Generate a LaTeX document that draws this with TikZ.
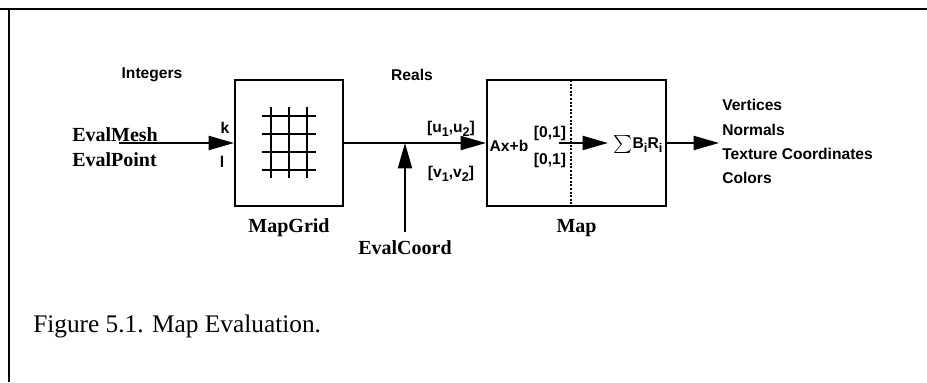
\documentclass[tikz,border=0pt]{standalone}
\usepackage{fontspec}
\setmainfont{Liberation Serif}
\newfontfamily\helv{Liberation Sans}
\usetikzlibrary{arrows.meta}

\tikzset{
  blk/.style={draw, line width=1.5pt, minimum height=94.5pt, inner sep=0pt},
  flow/.style={line width=1.5pt, -{Triangle[length=19pt,width=10.5pt]}},
  sans/.style={font=\helv\bfseries\fontsize{11.7}{14}\selectfont, inner sep=0pt},
  cmd/.style={font=\bfseries\fontsize{15}{18}\selectfont, inner sep=0pt},
}
\newcommand{\sbs}[1]{\raisebox{-0.5ex}{\fontsize{9.5}{10}\selectfont #1}}

\begin{document}
\begin{tikzpicture}[x=0.75pt,y=-0.75pt]
\fill[white] (0,0) rectangle (927,382);
\useasboundingbox (0,0) rectangle (927,382);

% cadre
\draw[line width=1.2pt] (0,9) -- (927,9);
\draw[line width=1.2pt] (9,9) -- (9,382);

% MapGrid
\node[blk, minimum width=81pt] (grid) at (289,143) {};
\foreach \x in {271,289,307}
  \draw[line width=1pt] (\x,107) -- (\x,178);
\foreach \y in {116,134,152,170}
  \draw[line width=1pt] (262,\y) -- (316,\y);
\node[cmd, anchor=base] (gridname) at (289,232) {MapGrid};

% Map
\node[blk, minimum width=134.25pt] (map) at (576.5,143) {};
\coordinate (dtop) at (571,80);
\coordinate (dbot) at (571,206);
\draw[line width=1.5pt, dash pattern=on 1.5pt off 1.2pt] (dtop) -- (dbot);
\node[cmd, anchor=base] (mapname) at (576.5,232) {Map};

% entrees
\node[sans] (ints) at (152,75) {Integers};
\node[cmd, anchor=base west] (mesh) at (72,141) {EvalMesh};
\node[cmd, anchor=base west] (point) at (72,166) {EvalPoint};
\coordinate (in) at (119,143);
\draw[flow] (in) -- (grid.west);
\node[sans] (k) at (225,128) {k};
\node[sans] (l) at (222,162) {l};

% reels
\node[sans] (reals) at (412,75) {Reals};
\coordinate (junc) at (405,143);
\draw[flow] (grid.east) -- (map.west);
\node[cmd, anchor=base] (coord) at (405,254) {EvalCoord};
\draw[flow] ([yshift=6pt]coord.north) -- (junc);
\node[sans, anchor=base] (uu) at (451,132) {[u\sbs{1},u\sbs{2}]};
\node[sans, anchor=base] (vv) at (451,177) {[v\sbs{1},v\sbs{2}]};

% interieur de Map
\node[sans, anchor=base] (ab) at (509,151) {Ax+b};
\node[sans, anchor=base] (unit1) at (550,137) {[0,1]};
\node[sans, anchor=base] (unit2) at (550,164) {[0,1]};
\coordinate (s0) at (559,143);
\coordinate (s1) at (608,143);
\draw[flow] (s0) -- (s1);
\node[sans, anchor=base] (sum) at (638,148) {\raisebox{-0.2ex}{\scalebox{1.35}{$\sum$}}B\sbs{i}R\sbs{i}};

% sorties
\coordinate (out) at (719,143);
\draw[flow] (map.east) -- (out);
\node[sans, anchor=base west] (vert) at (722,110.5) {Vertices};
\node[sans, anchor=base west] (norm) at (722,135) {Normals};
\node[sans, anchor=base west] (tex) at (722,159) {Texture Coordinates};
\node[sans, anchor=base west] (col) at (722,183.5) {Colors};

% legende
\node[font=\fontsize{19}{22}\selectfont, inner sep=0pt, anchor=base west] (cap) at (33,332) {Figure 5.1. Map Evaluation.};
\end{tikzpicture}
\end{document}
